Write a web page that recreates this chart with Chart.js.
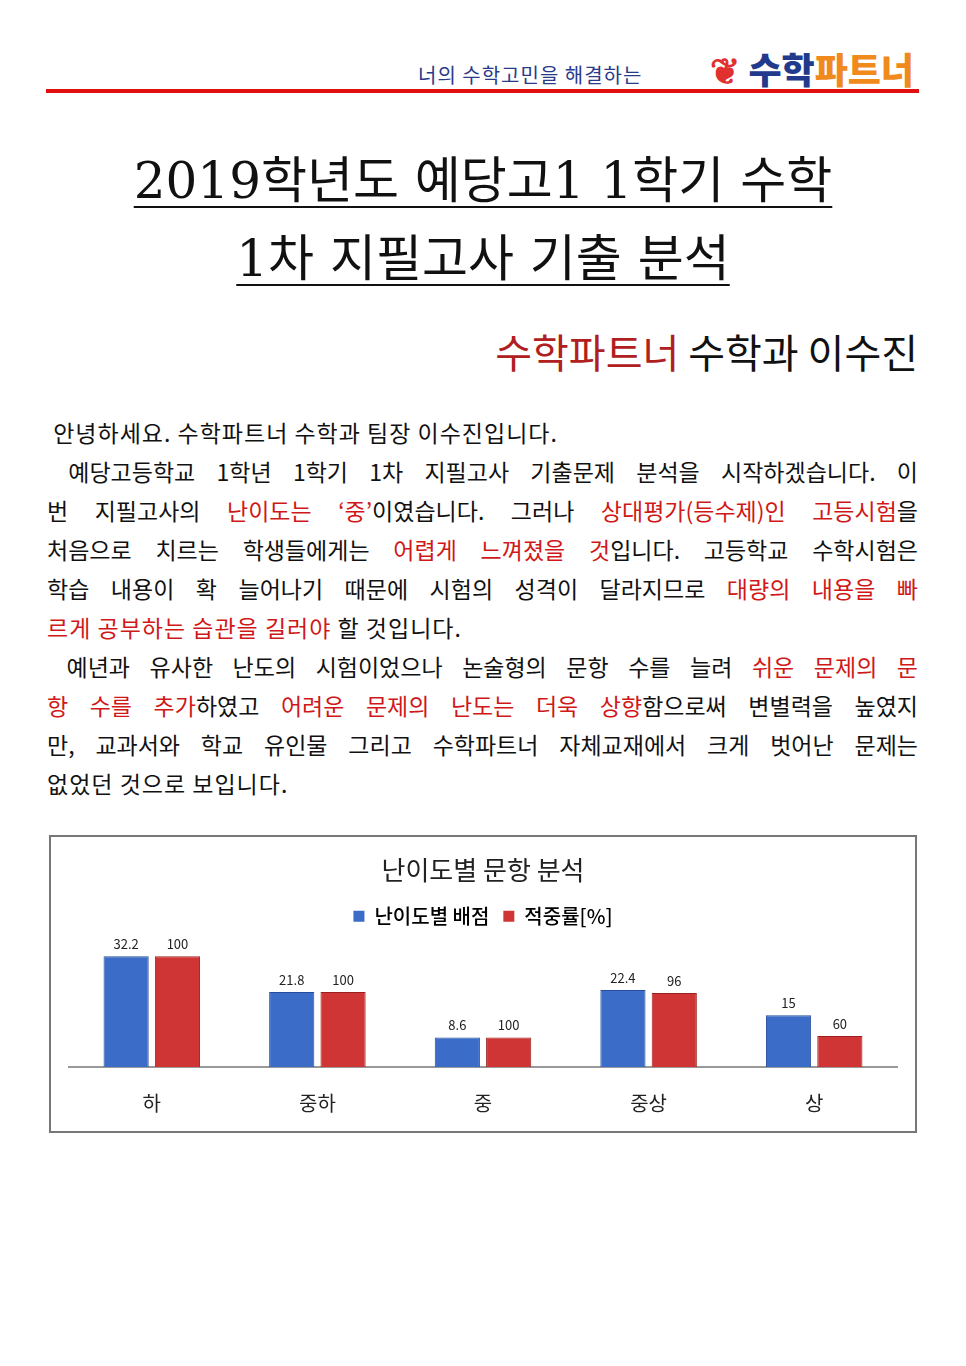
<!DOCTYPE html>
<html><head><meta charset="utf-8">
<script src="https://cdn.jsdelivr.net/npm/chart.js@4"></script>
<style>
body{margin:0;background:#fff;width:966px;height:1366px;position:relative;font-family:"Noto Sans CJK KR",sans-serif;color:#111;}
.abs{position:absolute;}
#hdr{left:418px;top:60px;font-size:20px;color:#2a3a8a;letter-spacing:1px;}
#logo{right:52px;top:42px;font-size:36px;font-weight:900;}
#rule{left:46px;top:89px;width:873px;height:4px;background:#e01010;}
.t{left:0;width:966px;text-align:center;font-size:50px;font-family:"DejaVu Serif","Noto Sans CJK KR",serif;}
.t span{text-decoration:underline;text-decoration-thickness:2px;text-underline-offset:8px;}
#auth{right:48px;top:322px;font-size:40px;}
#body{left:47px;top:413px;width:871px;font-size:23px;line-height:39px;}
.l{text-align:justify;text-align-last:justify;white-space:nowrap;}
.e{text-align:left;letter-spacing:1px;}
.r{color:#d01818;}
#box{left:49px;top:835px;width:864px;height:294px;border:2px solid #777;}
</style></head><body>
<div class="abs" id="hdr">너의 수학고민을 해결하는</div>
<div class="abs" id="logo"><span style="color:#e03030">❦</span> <span style="color:#223a8c">수학</span><span style="color:#f08a1c">파트너</span></div>
<div class="abs" id="rule"></div>
<div class="abs t" style="top:140px"><span>2019학년도 예당고1 1학기 수학</span></div>
<div class="abs t" style="top:218px"><span>1차 지필고사 기출 분석</span></div>
<div class="abs" id="auth"><span style="color:#b02020">수학파트너</span> 수학과 이수진</div>
<div class="abs" id="body">
<div class="e">&nbsp;안녕하세요. 수학파트너 수학과 팀장 이수진입니다.</div>
<div class="l">&nbsp;예당고등학교 1학년 1학기 1차 지필고사 기출문제 분석을 시작하겠습니다. 이</div>
<div class="l">번 지필고사의 <span class="r">난이도는 ‘중’</span>이였습니다. 그러나 <span class="r">상대평가(등수제)인 고등시험</span>을</div>
<div class="l">처음으로 치르는 학생들에게는 <span class="r">어렵게 느껴졌을 것</span>입니다. 고등학교 수학시험은</div>
<div class="l">학습 내용이 확 늘어나기 때문에 시험의 성격이 달라지므로 <span class="r">대량의 내용을 빠</span></div>
<div class="e"><span class="r">르게 공부하는 습관을 길러야</span> 할 것입니다.</div>
<div class="l">&nbsp;예년과 유사한 난도의 시험이었으나 논술형의 문항 수를 늘려 <span class="r">쉬운 문제의 문</span></div>
<div class="l"><span class="r">항 수를 추가</span>하였고 <span class="r">어려운 문제의 난도는 더욱 상향</span>함으로써 변별력을 높였지</div>
<div class="l">만, 교과서와 학교 유인물 그리고 수학파트너 자체교재에서 크게 벗어난 문제는</div>
<div class="e">없었던 것으로 보입니다.</div>
</div>
<div class="abs" id="box"><canvas id="c" width="864" height="294"></canvas></div>
<script>
const categories=["하","중하","중","중상","상"];
const scores=[32.2,21.8,8.6,22.4,15];
const rates=[100,100,100,96,60];
const weighted=scores.map((s,i)=>s*rates[i]/100);
const labelPlugin={id:'lbl',afterDatasetsDraw(ch){const c=ch.ctx;c.save();c.font='13px "Noto Sans CJK KR"';c.fillStyle='#222';c.textAlign='center';
ch.data.datasets.forEach((ds,di)=>{ch.getDatasetMeta(di).data.forEach((b,i)=>{const t=di===0?scores[i]:rates[i];c.fillText(String(t),b.x,b.y-12);});});c.restore();}};
new Chart(document.getElementById('c'),{type:'bar',
data:{labels:categories,datasets:[
{label:'난이도별 배점',data:scores,backgroundColor:'#3b6cc7',borderColor:'#254d9c',borderWidth:1},
{label:'적중률[%]',data:weighted,backgroundColor:'#d03535',borderColor:'#9c2020',borderWidth:1}]},
options:{responsive:false,animation:false,categoryPercentage:0.62,barPercentage:0.88,
layout:{padding:{left:18,right:18,top:6,bottom:0}},
plugins:{title:{display:true,text:'난이도별 문항 분석',font:{size:26,weight:'normal',family:'"Noto Sans CJK KR"'},color:'#222',padding:{top:12,bottom:6}},
legend:{labels:{boxWidth:11,boxHeight:11,font:{size:20,weight:'500',family:'"Noto Sans CJK KR"'},color:'#222',padding:14,generateLabels:(ch)=>ch.data.datasets.map((d,i)=>({text:d.label,fillStyle:d.backgroundColor,strokeStyle:d.backgroundColor,lineWidth:0,datasetIndex:i}))}},
tooltip:{enabled:false}},
scales:{x:{grid:{display:false},border:{color:'#999',width:2},ticks:{font:{size:20,family:'"Noto Sans CJK KR"'},color:'#222',padding:16}},
y:{display:false,min:0,max:38}}},
plugins:[labelPlugin]});
</script>
</body></html>
